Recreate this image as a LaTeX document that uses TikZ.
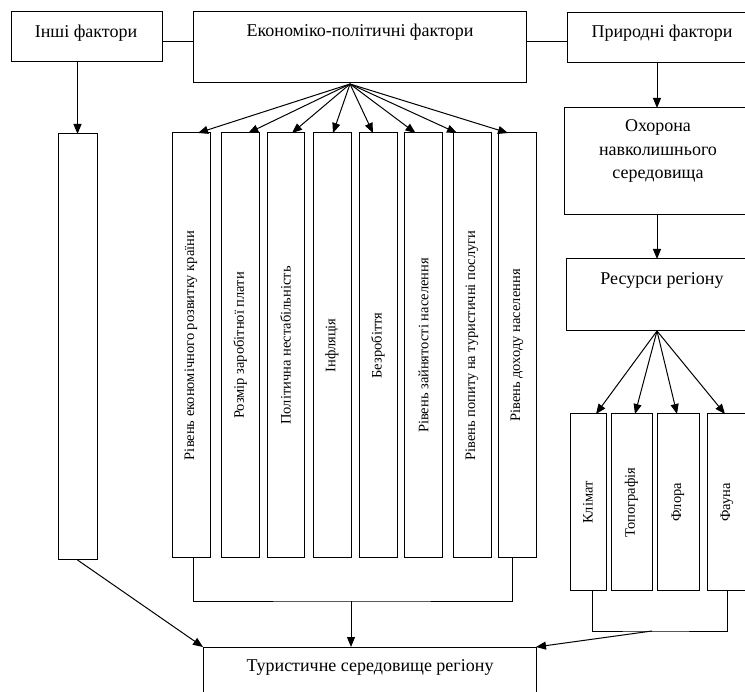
\documentclass[tikz,border=0pt]{standalone}
\usepackage{fontspec}
\setmainfont{Liberation Serif}
\newfontfamily\tnrfont{Liberation Serif}
\usetikzlibrary{arrows.meta}
\begin{document}
\begin{tikzpicture}[x=1pt,y=-1pt,
  box/.style={draw=black, line width=1pt, anchor=north west, inner sep=0pt, outer sep=0pt},
  lbl/.style={font=\tnrfont\fontsize{18}{23.5}\selectfont, inner sep=0pt},
  vlbl/.style={font=\tnrfont\fontsize{14.5}{17}\selectfont, rotate=90, inner sep=0pt},
  con/.style={line width=1pt},
  arr/.style={line width=1pt, -{Triangle[length=10pt,width=8pt]}},
]
\useasboundingbox (0,0) rectangle (745,692);
\clip (0,0) rectangle (745,692);

% top row
\node[box, minimum width=151pt, minimum height=50pt] (inshi) at (11,12) {};
\node[lbl] (inshiT) at (86,33) {Інші фактори};
\node[box, minimum width=333pt, minimum height=71pt] (econ) at (193,12) {};
\node[lbl] (econT) at (360,32) {Економіко-політичні фактори};
\node[box, minimum width=200pt, minimum height=50pt] (pryr) at (567,13) {};
\node[lbl] (pryrT) at (662,33) {Природні фактори};

% right column
\node[box, minimum width=200pt, minimum height=107pt] (okh) at (564,108) {};
\node[lbl, align=center] (okhT) at (658,151) {Охорона\\навколишнього\\середовища};
\node[box, minimum width=200pt, minimum height=72pt] (res) at (566,259) {};
\node[lbl] (resT) at (662,280) {Ресурси регіону};

% left tall box
\node[box, minimum width=39pt, minimum height=426pt] (left) at (58,134) {};

% economic factor boxes
\node[box, minimum width=38pt, minimum height=425pt] (b1) at (172,133) {};
\node[box, minimum width=37.5pt, minimum height=425pt] (b2) at (221.5,133) {};
\node[box, minimum width=37pt, minimum height=425pt] (b3) at (267,133) {};
\node[box, minimum width=38pt, minimum height=425pt] (b4) at (313,133) {};
\node[box, minimum width=38pt, minimum height=425pt] (b5) at (359,133) {};
\node[box, minimum width=38pt, minimum height=425pt] (b6) at (404.5,133) {};
\node[box, minimum width=38pt, minimum height=425pt] (b7) at (453,133) {};
\node[box, minimum width=38pt, minimum height=425pt] (b8) at (498,133) {};
\node[vlbl] (t1) at (b1.center) {Рівень економічного розвитку країни};
\node[vlbl] (t2) at (b2.center) {Розмір заробітної плати};
\node[vlbl] (t3) at (b3.center) {Політична нестабільність};
\node[vlbl] (t4) at (b4.center) {Інфляція};
\node[vlbl] (t5) at (b5.center) {Безробіття};
\node[vlbl] (t6) at (b6.center) {Рівень зайнятості населення};
\node[vlbl] (t7) at (b7.center) {Рівень попиту на туристичні послуги};
\node[vlbl] (t8) at (b8.center) {Рівень доходу населення};

% resource boxes
\node[box, minimum width=36pt, minimum height=177pt] (r1) at (570,414) {};
\node[box, minimum width=41pt, minimum height=177pt] (r2) at (611,414) {};
\node[box, minimum width=42pt, minimum height=177pt] (r3) at (657,414) {};
\node[box, minimum width=60pt, minimum height=177pt] (r4) at (707,414) {};
\node[vlbl] (rt1) at (r1.center) {Клімат};
\node[vlbl] (rt2) at (r2.center) {Топографія};
\node[vlbl] (rt3) at (r3.center) {Флора};
\node[vlbl] (rt4) at ([xshift=-10pt]r4.center) {Фауна};

% bottom box
\node[box, minimum width=333pt, minimum height=60pt] (tury) at (203,647) {};
\node[lbl] (turyT) at (370,667) {Туристичне середовище регіону};

% helper coordinates
\coordinate (cl) at (0,42);
\coordinate (ef) at (350,84);
\coordinate (rf) at (657,331);
\coordinate (mb) at (351,601);
\coordinate (rb) at (652,631);

% horizontal links in top row
\draw[con] (inshi.east |- cl) -- (econ.west |- cl);
\draw[con] (econ.east |- cl) -- (pryr.west |- cl);

% vertical arrows
\draw[arr] (left.north |- inshi.south) -- (left.north);
\draw[arr] (rf |- pryr.south) -- (rf |- okh.north);
\draw[arr] (rf |- okh.south) -- (rf |- res.north);

% economic fan
\draw[arr] (ef) -- ([xshift=7pt]b1.north);
\draw[arr] (ef) -- ([xshift=8pt]b2.north);
\draw[arr] (ef) -- ([xshift=6.5pt]b3.north);
\draw[arr] (ef) -- ([xshift=1pt]b4.north);
\draw[arr] (ef) -- ([xshift=-5pt]b5.north);
\draw[arr] (ef) -- ([xshift=-8pt]b6.north);
\draw[arr] (ef) -- ([xshift=-15pt]b7.north);
\draw[arr] (ef) -- ([xshift=-9pt]b8.north);

% resource fan
\draw[arr] (rf) -- ([xshift=8pt]r1.north);
\draw[arr] (rf) -- ([xshift=3.5pt]r2.north);
\draw[arr] (rf) -- ([xshift=-1pt]r3.north);
\draw[arr] (rf) -- ([xshift=-12pt]r4.north);

% middle bracket
\draw[con] ([xshift=2pt]b1.south) |- (mb) -| ([xshift=-5pt]b8.south);
\draw[arr] (mb) -- (mb |- tury.north);

% right bracket
\draw[con] ([xshift=4pt]r1.south) |- (rb) -| ([xshift=-10pt]r4.south);
\draw[arr] (rb) -- (tury.north east);

% left arrow
\draw[arr] (left.south) -- (tury.north west);
\end{tikzpicture}
\end{document}
